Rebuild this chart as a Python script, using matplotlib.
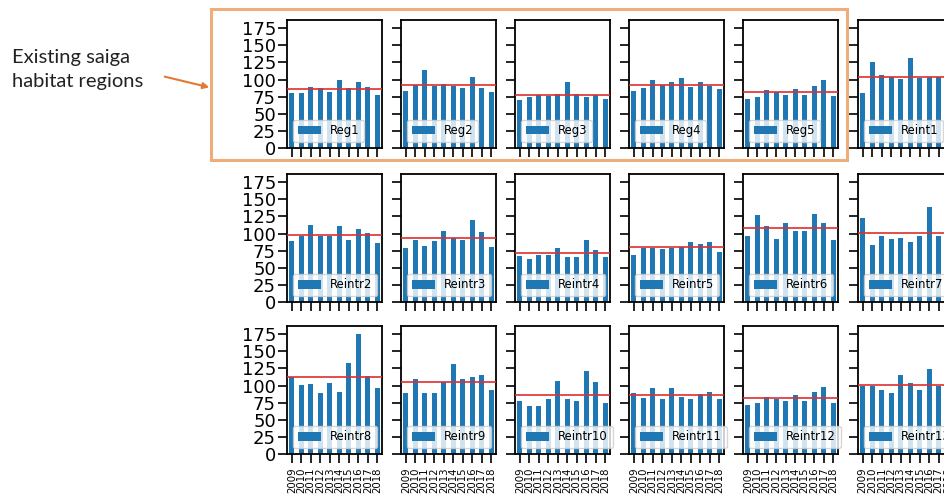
import numpy as np
import matplotlib
matplotlib.use("Agg")
import matplotlib.pyplot as plt
from matplotlib.patches import Rectangle, FancyArrowPatch

years = ["2009", "2010", "2011", "2012", "2013", "2014", "2015", "2016", "2017", "2018"]

names = ["Reg1", "Reg2", "Reg3", "Reg4", "Reg5", "Reint1",
         "Reintr2", "Reintr3", "Reintr4", "Reintr5", "Reintr6", "Reintr7",
         "Reintr8", "Reintr9", "Reintr10", "Reintr11", "Reintr12", "Reintr13"]

reg1 = [80, 81, 89, 87, 82, 100, 87, 96, 89, 78]
reg2 = [84, 92, 114, 90, 94, 90, 87, 104, 88, 82]
reg3 = [70, 75, 78, 76, 79, 97, 79, 75, 78, 71]
reg4 = [84, 88, 99, 92, 96, 102, 89, 97, 91, 86]
reg5 = [72, 75, 85, 82, 77, 86, 78, 90, 99, 76]
reint1 = [81, 125, 107, 103, 101, 131, 102, 103, 103, 82]
reintr2 = [89, 96, 112, 96, 96, 111, 90, 106, 101, 86]
reintr3 = [79, 90, 82, 89, 103, 94, 90, 120, 102, 80]
reintr4 = [67, 63, 68, 68, 79, 66, 66, 91, 76, 66]
reintr5 = [69, 79, 79, 78, 79, 80, 88, 85, 88, 73]
reintr6 = [97, 127, 111, 92, 116, 103, 104, 129, 115, 90]
reintr7 = [122, 84, 96, 92, 94, 87, 96, 139, 97, 96]
reintr8 = [113, 101, 102, 89, 104, 90, 133, 176, 114, 97]
reintr9 = [89, 110, 89, 89, 105, 131, 110, 113, 115, 94]
reintr10 = [77, 70, 70, 80, 107, 81, 77, 121, 105, 75]
reintr11 = [89, 82, 96, 81, 96, 83, 81, 87, 90, 80]
reintr12 = [71, 74, 84, 81, 77, 86, 78, 90, 98, 75]
reintr13 = [100, 100, 93, 89, 115, 103, 94, 124, 100, 92]

series = [reg1, reg2, reg3, reg4, reg5, reint1,
          reintr2, reintr3, reintr4, reintr5, reintr6, reintr7,
          reintr8, reintr9, reintr10, reintr11, reintr12, reintr13]

yticks = [0, 25, 50, 75, 100, 125, 150, 175]

W, H = 944, 495
fig = plt.figure(figsize=(W / 100, H / 100), dpi=100)

col_left = [287, 401, 515, 629, 743, 858]
row_top = [20, 174, 326]
ax_w, ax_h = 95, 128

bar_color = "#1f77b4"
x = np.arange(len(years))

for i, (name, vals) in enumerate(zip(names, series)):
    r, c = divmod(i, 6)
    left = col_left[c] / W
    bottom = 1 - (row_top[r] + ax_h) / H
    ax = fig.add_axes([left, bottom, ax_w / W, ax_h / H])
    ax.bar(x, vals, width=0.5, color=bar_color, label=name, zorder=2)
    ax.axhline(np.mean(vals), color="#dd3030", lw=1.2, zorder=3)
    ax.set_xlim(-0.5, len(years) - 0.5)
    ax.set_ylim(0, 187)
    ax.set_yticks(yticks)
    ax.set_xticks(x)
    for s in ax.spines.values():
        s.set_linewidth(1.3)
    ax.tick_params(axis="both", length=6.5, width=1.2, direction="out")
    if c == 0:
        ax.set_yticklabels([str(t) for t in yticks], fontsize=13)
        ax.tick_params(axis="y", pad=1.5)
    else:
        ax.set_yticklabels([])
    if r == 2:
        ax.set_xticklabels(years, rotation=90, fontsize=7.3)
        ax.tick_params(axis="x", pad=3)
    else:
        ax.set_xticklabels([])
    ax.legend(loc="lower left", fontsize=8.4, handlelength=2.0,
              handletextpad=0.8, borderpad=0.4, framealpha=0.8)

# orange frame around existing regions
rect = Rectangle((211 / W, 1 - 160 / H), (847 - 211) / W, (160 - 9) / H,
                 transform=fig.transFigure, fill=False, edgecolor="#efad7c",
                 linewidth=2.2, zorder=10)
fig.patches.append(rect)

fig.text(12 / W, 1 - 69.5 / H, "Existing saiga\nhabitat regions",
         fontsize=14.5, family=["Lato", "DejaVu Sans"], color="#222222",
         ha="left", va="center", linespacing=1.45)

fig.add_artist(FancyArrowPatch(
    (162 / W, 1 - 76 / H), (212 / W, 1 - 88 / H), transform=fig.transFigure,
    arrowstyle="-|>", mutation_scale=9, color="#e27a35", lw=1.5))

fig.savefig("out.png", dpi=100)
